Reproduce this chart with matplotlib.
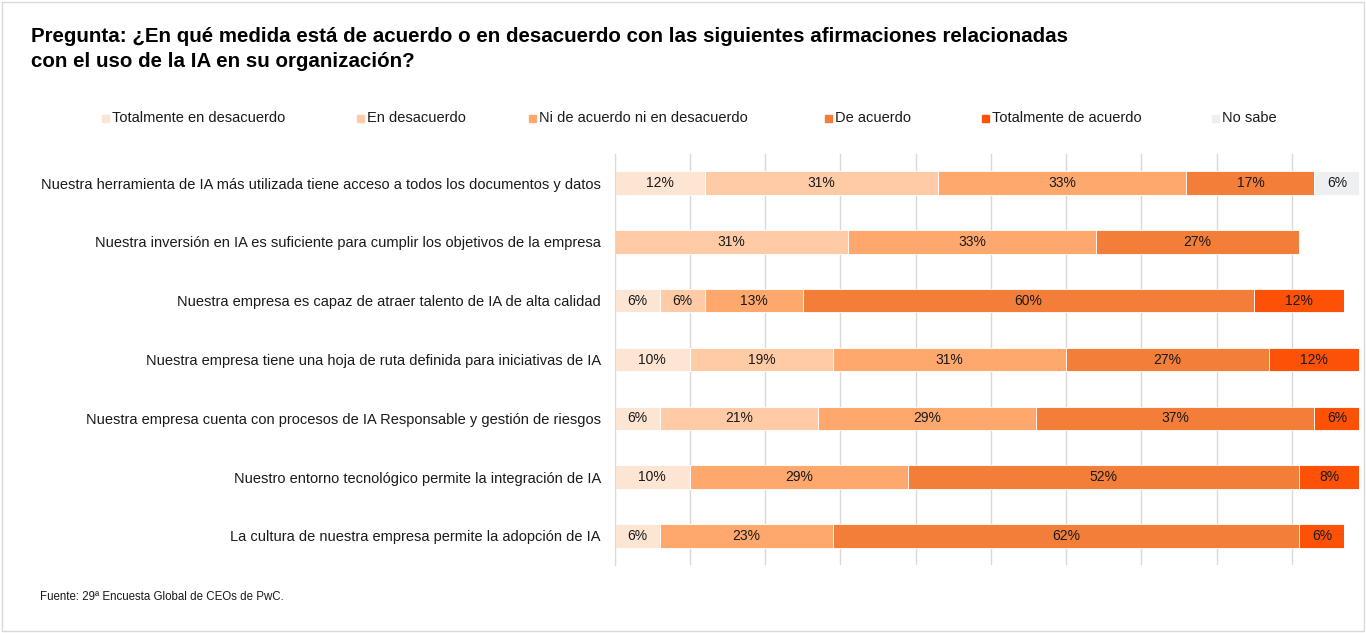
import matplotlib.pyplot as plt
from matplotlib.patches import Rectangle

plt.rcParams["font.family"] = ["Liberation Sans", "DejaVu Sans"]

categories = [
    "Nuestra herramienta de IA más utilizada tiene acceso a todos los documentos y datos",
    "Nuestra inversión en IA es suficiente para cumplir los objetivos de la empresa",
    "Nuestra empresa es capaz de atraer talento de IA de alta calidad",
    "Nuestra empresa tiene una hoja de ruta definida para iniciativas de IA",
    "Nuestra empresa cuenta con procesos de IA Responsable y gestión de riesgos",
    "Nuestro entorno tecnológico permite la integración de IA",
    "La cultura de nuestra empresa permite la adopción de IA",
]

series_names = [
    "Totalmente en desacuerdo",
    "En desacuerdo",
    "Ni de acuerdo ni en desacuerdo",
    "De acuerdo",
    "Totalmente de acuerdo",
    "No sabe",
]

totalmente_desacuerdo = [12, 0, 6, 10, 6, 10, 6]
en_desacuerdo = [31, 31, 6, 19, 21, 0, 0]
ni_acuerdo_ni_desacuerdo = [33, 33, 13, 31, 29, 29, 23]
de_acuerdo = [17, 27, 60, 27, 37, 52, 62]
totalmente_acuerdo = [0, 0, 12, 12, 6, 8, 6]
no_sabe = [6, 0, 0, 0, 0, 0, 0]

colors = ["#FDE5D3", "#FECBA6", "#FEA86E", "#F37E3A", "#FD5108", "#EEEFF1"]

title_lines = [
    "Pregunta: ¿En qué medida está de acuerdo o en desacuerdo con las siguientes afirmaciones relacionadas",
    "con el uso de la IA en su organización?",
]
source = "Fuente: 29ª Encuesta Global de CEOs de PwC."

W, H = 1366, 633
fig = plt.figure(figsize=(W / 100, H / 100), dpi=100)
ax = fig.add_axes([614.7 / W, 1 - 565.4 / H, 752.3 / W, (565.4 - 153.6) / H])

all_series = [totalmente_desacuerdo, en_desacuerdo, ni_acuerdo_ni_desacuerdo,
              de_acuerdo, totalmente_acuerdo, no_sabe]
y = list(range(len(categories)))
left = [0] * len(categories)
for values, color in zip(all_series, colors):
    ax.barh(y, values, left=left, height=0.4, color=color,
            edgecolor="white", linewidth=0.6, zorder=2)
    for i, v in enumerate(values):
        if v > 0:
            ax.text(left[i] + v / 2, i, f"{v}%", ha="center", va="center",
                    fontsize=10, color="#1A1A1A", zorder=3)
    left = [a + b for a, b in zip(left, values)]

ax.set_xlim(0, 100)
ax.set_ylim(6.5, -0.5)
ax.set_xticks(range(0, 101, 10))
ax.xaxis.grid(True, color="#D9D9D9", linewidth=1, zorder=0)
ax.tick_params(axis="x", bottom=False, labelbottom=False)
ax.set_yticks(y)
ax.set_yticklabels(categories, fontsize=10.5, color="#1A1A1A")
ax.tick_params(axis="y", length=0, pad=10)
for side in ["top", "right", "bottom"]:
    ax.spines[side].set_visible(False)
ax.spines["left"].set_color("#D9D9D9")

# title, two lines placed on their baselines
for line, base in zip(title_lines, [42, 67]):
    fig.text(31 / W, 1 - base / H, line, fontsize=14.8, fontweight="bold",
             ha="left", va="baseline", color="#000000")

# legend row
legend_x = [102, 357, 529, 825, 982, 1212]
for x, name, color in zip(legend_x, series_names, colors):
    fig.patches.append(Rectangle((x / W, 1 - 122 / H), 7 / W, 7 / H,
                                 transform=fig.transFigure, color=color))
    fig.text((x + 10) / W, 1 - 118 / H, name, fontsize=10.5,
             ha="left", va="center", color="#1A1A1A")

fig.text(40 / W, 1 - 597 / H, source, fontsize=8.3, ha="left", va="center",
         color="#1A1A1A")

fig.patches.append(Rectangle((2 / W, 2 / H), (W - 4) / W, (H - 4) / H,
                             transform=fig.transFigure, fill=False,
                             edgecolor="#D9D9D9", linewidth=1))

fig.savefig("out.png", dpi=100)
